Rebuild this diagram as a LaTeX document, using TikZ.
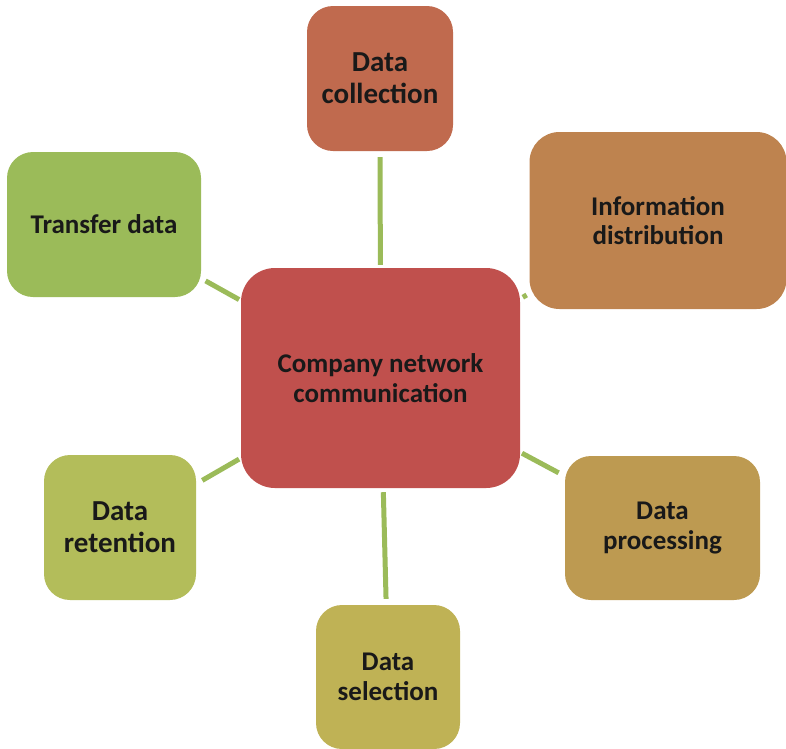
\documentclass[tikz,border=0pt]{standalone}
\usepackage{fontspec}
\setmainfont{Carlito}
\begin{document}
\begin{tikzpicture}[x=1pt,y=-1pt,
  box/.style={rounded corners=#1, inner sep=0pt, align=center,
    font=\bfseries\fontsize{27}{29.5}\selectfont, text=black!90},
  box/.default=28pt,
  bigtext/.style={font=\bfseries\fontsize{29}{32}\selectfont},
  link/.style={draw=linkgreen, line width=5pt}]
\definecolor{linkgreen}{HTML}{9BBB59}
\definecolor{hubred}{HTML}{C0504D}
\definecolor{collectc}{HTML}{C06A4E}
\definecolor{distribc}{HTML}{BE834F}
\definecolor{transferc}{HTML}{9BBB59}
\definecolor{retainc}{HTML}{B3BD5A}
\definecolor{processc}{HTML}{BD9A51}
\definecolor{selectc}{HTML}{BFB255}

\useasboundingbox (0,0) rectangle (786,748);

% central hub
\node[box=34pt, fill=hubred, minimum width=279pt, minimum height=220pt]
  (hub) at (380.5,378) {Company network\\communication};

% surrounding activities
\node[box=26pt, bigtext, fill=collectc, minimum width=146pt, minimum height=145pt]
  (collect) at (380,78.5) {Data\\collection};
\node[box=30pt, fill=distribc, minimum width=257pt, minimum height=177pt]
  (distrib) at (658,220.5) {Information\\distribution};
\node[box=26pt, fill=transferc, minimum width=194pt, minimum height=145pt]
  (transfer) at (104,224.5) {Transfer data};
\node[box=26pt, bigtext, fill=retainc, minimum width=152pt, minimum height=145pt]
  (retain) at (120,527.5) {Data\\retention};
\node[box=26pt, fill=processc, minimum width=195pt, minimum height=144pt]
  (process) at (662.5,528) {Data\\processing};
\node[box=26pt, fill=selectc, minimum width=144pt, minimum height=144pt]
  (select) at (388,677) {Data\\selection};

% connectors
\draw[link, shorten <=3pt, shorten >=6pt] (hub) -- (collect);
\draw[link, shorten <=3pt, shorten >=3pt] (hub) -- (distrib);
\draw[link, shorten <=2pt, shorten >=5pt] (hub) -- (transfer);
\draw[link, shorten <=2pt, shorten >=7pt] (hub) -- (retain);
\draw[link, shorten <=2pt, shorten >=7pt] (hub) -- (process);
\draw[link, shorten <=4pt, shorten >=6pt] (hub) -- (select);
\end{tikzpicture}
\end{document}
